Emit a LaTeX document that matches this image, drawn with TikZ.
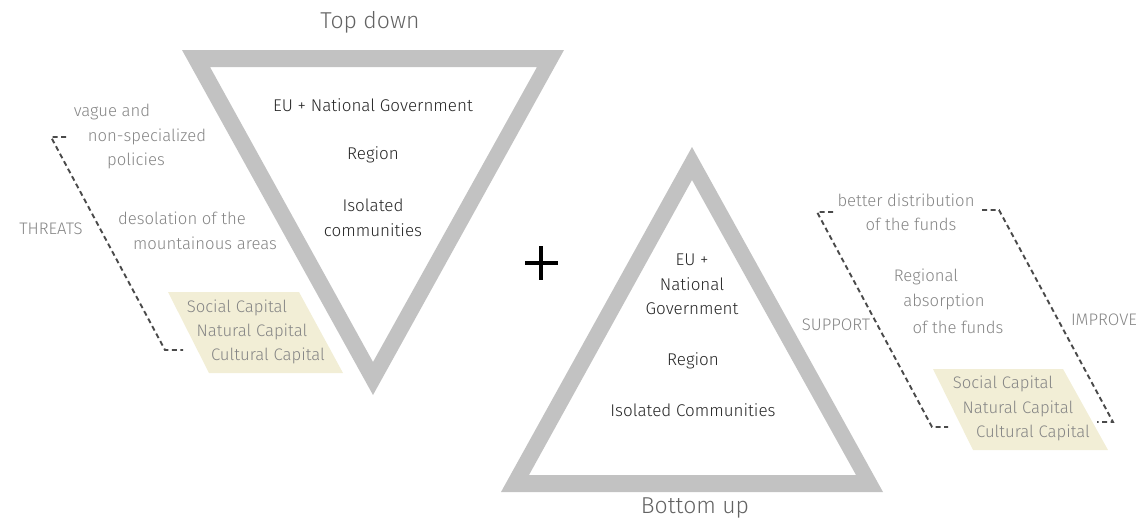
\documentclass[tikz,border=0pt]{standalone}
\usepackage{fontspec}
\setmainfont{Fira Sans}[UprightFont={* Light}]
\definecolor{trigray}{HTML}{C2C2C2}
\definecolor{beige}{HTML}{F2EED6}
\definecolor{txtgray}{HTML}{858585}
\definecolor{titlegray}{HTML}{636363}
\definecolor{darktxt}{HTML}{262626}
\definecolor{dashgray}{HTML}{4A4A4A}
\tikzset{
  tri/.style={fill=trigray, even odd rule, draw=none},
  capbox/.style={fill=beige, draw=none},
  intxt/.style={inner sep=0pt, text=darktxt, font=\fontsize{17}{20}\selectfont},
  sidetxt/.style={inner sep=0pt, text=txtgray, font=\fontsize{16.7}{20}\selectfont},
  titletxt/.style={inner sep=0pt, text=titlegray, font=\fontsize{23}{27}\selectfont},
  bracket/.style={draw=dashgray, line width=1.9pt, dash pattern=on 5pt off 3.5pt}
}
\begin{document}
\begin{tikzpicture}[x=1pt,y=-1pt]
\useasboundingbox (0,0) rectangle (1136,522);
% triangles
\path[tri] (182,50) -- (564,50) -- (373,395) -- cycle
           (210,67) -- (537,67) -- (373,362) -- cycle;
\path[tri] (501,492) -- (883,492) -- (692,147) -- cycle
           (529,475) -- (856,475) -- (692,180) -- cycle;
% capital boxes
\path[capbox] (168,292) -- (299,292) -- (343,373) -- (209,373) -- cycle;
\path[capbox] (933,369) -- (1063,369) -- (1108,450) -- (973,450) -- cycle;
% plus
\draw[line width=3.5pt, black] (525,263) -- (558,263) (541,246) -- (541,280);
% titles
\node[titletxt] (td) at (370,22) {Top down};
\node[titletxt] (bu) at (695,508) {Bottom up};
% top-down inner texts
\node[intxt] (t1) at (373,105) {EU + National Government};
\node[intxt] (t2) at (373,155) {Region};
\node[intxt] (t3) at (373,205) {Isolated};
\node[intxt] (t4) at (373,230) {communities};
% bottom-up inner texts
\node[intxt] (b1) at (692,260) {EU +};
\node[intxt] (b2) at (692,284) {National};
\node[intxt] (b3) at (692,309) {Government};
\node[intxt] (b4) at (693,361) {Region};
\node[intxt] (b5) at (693,410) {Isolated Communities};
% left side texts
\node[sidetxt] (l1) at (112,112) {vague and};
\node[sidetxt] (l2) at (147,137) {non-specialized};
\node[sidetxt] (l3) at (136,161) {policies};
\node[sidetxt] (l4) at (182,218) {desolation of the};
\node[sidetxt] (l5) at (205,243) {mountainous areas};
\node[sidetxt] (thr) at (51,229) {THREATS};
\node[sidetxt] (lc1) at (237,308) {Social Capital};
\node[sidetxt] (lc2) at (252,332) {Natural Capital};
\node[sidetxt] (lc3) at (268,356) {Cultural Capital};
% right side texts
\node[sidetxt] (r1) at (906,200) {better distribution};
\node[sidetxt] (r2) at (911,224) {of the funds};
\node[sidetxt] (r3) at (926,277) {Regional};
\node[sidetxt] (r4) at (944,302) {absorption};
\node[sidetxt] (r5) at (958,327) {of the funds};
\node[sidetxt] (sup) at (836,325) {SUPPORT};
\node[sidetxt] (imp) at (1104,320) {IMPROVE};
\node[sidetxt] (rc1) at (1003,384) {Social Capital};
\node[sidetxt] (rc2) at (1018,409) {Natural Capital};
\node[sidetxt] (rc3) at (1033,433) {Cultural Capital};
% brackets
\coordinate (thA) at (66,137);
\coordinate (thB) at (51,137);
\coordinate (thC) at (165,350);
\coordinate (thD) at (183,350);
\draw[bracket] (thA) -- (thB) -- (thC) -- (thD);
\coordinate (spA) at (833,212);
\coordinate (spB) at (817,212);
\coordinate (spC) at (932,427);
\coordinate (spD) at (948,427);
\draw[bracket] (spA) -- (spB) -- (spC) -- (spD);
\coordinate (imA) at (982,210);
\coordinate (imB) at (999,210);
\coordinate (imC) at (1113,422);
\coordinate (imD) at (1097,422);
\draw[bracket] (imA) -- (imB) -- (imC) -- (imD);
\end{tikzpicture}
\end{document}
